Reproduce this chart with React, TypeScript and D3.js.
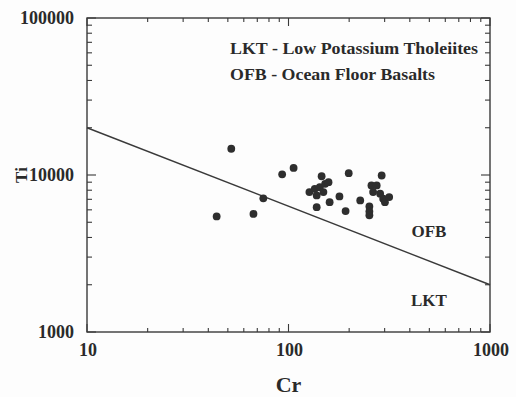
import React from "react";
import * as d3 from "d3";

const crValues = [44, 52, 67, 75, 93, 106, 127, 135, 138, 143, 146, 152, 158, 149, 160, 138, 179, 192, 199, 227, 252, 252, 252, 258, 274, 263, 290, 285, 295, 301, 316];
const tiValues = [5450, 14700, 5650, 7100, 10100, 11100, 7780, 8170, 7410, 8370, 9820, 8790, 9000, 7780, 6710, 6240, 7300, 5890, 10270, 6890, 6310, 5860, 5540, 8580, 8580, 7780, 9930, 7600, 7060, 6710, 7230];

const boundaryCr = [10, 1000];
const boundaryTi = [20000, 2000];

const xTicks = [10, 100, 1000];
const yTicks = [1000, 10000, 100000];

const notes = ["LKT - Low Potassium Tholeiites", "OFB - Ocean Floor Basalts"];
const noteWidths = [248, 205];
const fieldLabels = [
  { text: "OFB", cr: 498, ti: 4380 },
  { text: "LKT", cr: 498, ti: 1600 },
];

const W = 516, H = 397;
const L = 87, R = 490, T = 18, B = 332;

export default function App() {
  const x = d3.scaleLog().domain([10, 1000]).range([L, R]);
  const y = d3.scaleLog().domain([1000, 100000]).range([B, T]);
  const ink = "#3a3a3a";
  const font = "'Liberation Serif', 'Times New Roman', serif";

  const xMinor: number[] = [];
  for (let d = 10; d < 1000; d *= 10) for (let k = 2; k <= 9; k++) xMinor.push(d * k);
  const yMinor: number[] = [];
  for (let d = 1000; d < 100000; d *= 10) for (let k = 2; k <= 9; k++) yMinor.push(d * k);

  const line = d3.line<number>().x((_, i) => x(boundaryCr[i])).y((d) => y(d));

  return (
    <svg width={W} height={H} style={{ position: "absolute", left: 0, top: 0, background: "#fdfdfd" }}>
      <rect x={0} y={0} width={W} height={H} fill="#fdfdfd" />
      <g stroke={ink} strokeWidth={1.1}>
        {xTicks.map((t) => (
          <g key={"xt" + t}>
            <line x1={x(t)} x2={x(t)} y1={B} y2={B - 8} />
            <line x1={x(t)} x2={x(t)} y1={T} y2={T + 8} />
          </g>
        ))}
        {xMinor.map((t) => (
          <g key={"xm" + t}>
            <line x1={x(t)} x2={x(t)} y1={B} y2={B - 4} />
            <line x1={x(t)} x2={x(t)} y1={T} y2={T + 4} />
          </g>
        ))}
        {yTicks.map((t) => (
          <g key={"yt" + t}>
            <line x1={L} x2={L + 9} y1={y(t)} y2={y(t)} />
            <line x1={R} x2={R - 9} y1={y(t)} y2={y(t)} />
          </g>
        ))}
        {yMinor.map((t) => (
          <g key={"ym" + t}>
            <line x1={L} x2={L + 5} y1={y(t)} y2={y(t)} />
            <line x1={R} x2={R - 5} y1={y(t)} y2={y(t)} />
          </g>
        ))}
        <rect x={L} y={T} width={R - L} height={B - T} fill="none" strokeWidth={1.4} />
      </g>
      <path d={line(boundaryTi) || ""} stroke={ink} strokeWidth={1.4} fill="none" />
      <g fill="#2e2e2e">
        {crValues.map((c, i) => (
          <circle key={i} cx={x(c)} cy={y(tiValues[i])} r={3.9} />
        ))}
      </g>
      <g fontFamily={font} fontWeight="bold" fill="#2a2a2a">
        {yTicks.map((t) => (
          <text key={"yl" + t} x={L - 13} y={y(t)} dy="0.35em" textAnchor="end" fontSize={18}>
            {t}
          </text>
        ))}
        {xTicks.map((t) => (
          <text key={"xl" + t} x={x(t) + 1} y={B + 24} textAnchor="middle" fontSize={18}>
            {t}
          </text>
        ))}
        <text x={(L + R) / 2} y={392} textAnchor="middle" fontSize={22}>Cr</text>
        <rect x={13} y={y(10000) - 9} width={14} height={18} fill="#fdfdfd" />
        <text transform={`translate(27, ${y(10000)}) rotate(-90)`} textAnchor="middle" fontSize={17}>Ti</text>
        {notes.map((n, i) => (
          <text key={n} x={230} y={54 + i * 26} fontSize={17.5} textLength={noteWidths[i]} lengthAdjust="spacingAndGlyphs">{n}</text>
        ))}
        {fieldLabels.map((f) => (
          <text key={f.text} x={x(f.cr)} y={y(f.ti)} dy="0.35em" textAnchor="middle" fontSize={17}>
            {f.text}
          </text>
        ))}
      </g>
    </svg>
  );
}
